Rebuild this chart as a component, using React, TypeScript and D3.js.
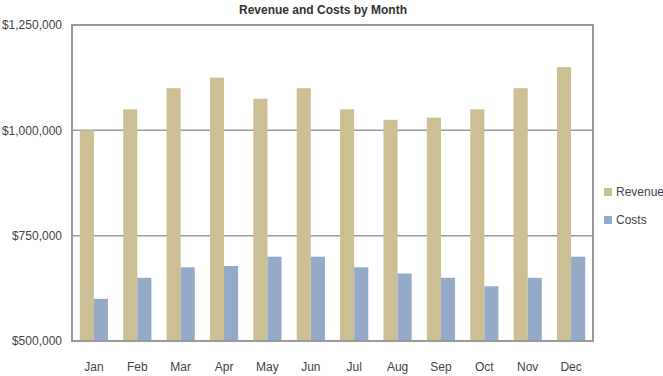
import React from "react";
import * as d3 from "d3";

const months = ["Jan", "Feb", "Mar", "Apr", "May", "Jun", "Jul", "Aug", "Sep", "Oct", "Nov", "Dec"];
const revenue = [1000000, 1050000, 1100000, 1125000, 1075000, 1100000, 1050000, 1025000, 1030000, 1050000, 1100000, 1150000];
const costs = [600000, 650000, 675000, 678000, 700000, 700000, 675000, 660000, 650000, 630000, 650000, 700000];
const seriesNames = ["Revenue", "Costs"];
const yTicks = [500000, 750000, 1000000, 1250000];
const title = "Revenue and Costs by Month";

const W = 663;
const H = 376;
const left = 72;
const right = 593;
const top = 25;
const bottom = 341;
const colors: Record<string, string> = { Revenue: "#cbbf93", Costs: "#94aac8" };
const font = "'Liberation Sans', Arial, sans-serif";

export default function App() {
  const x0 = d3.scaleBand<string>().domain(months).range([left, right]).paddingInner(0.35).paddingOuter(0.18);
  const x1 = d3.scaleBand<string>().domain(seriesNames).range([0, x0.bandwidth()]);
  const y = d3.scaleLinear().domain([500000, 1250000]).range([bottom, top]);
  const fmt = (v: number) => "$" + d3.format(",")(v);
  const values: Record<string, number[]> = { Revenue: revenue, Costs: costs };

  return (
    <svg width={W} height={H} style={{ position: "absolute", left: 0, top: 0, background: "#fff" }}>
      <text x={323} y={14} textAnchor="middle" fontFamily={font} fontWeight="bold" fontSize={12} fill="#333">
        {title}
      </text>
      {yTicks.map((t) => (
        <g key={t}>
          {t !== 500000 && t !== 1250000 && (
            <line x1={left - 1} x2={right} y1={y(t)} y2={y(t)} stroke="#9a9a9a" strokeWidth={1.5} />
          )}
          <text x={62} y={y(t)} dy="0.35em" textAnchor="end" fontFamily={font} fontSize={12} fill="#444">
            {fmt(t)}
          </text>
        </g>
      ))}
      {months.map((m, i) => (
        <g key={m} transform={`translate(${x0(m)},0)`}>
          {seriesNames.map((s) => (
            <rect
              key={s}
              x={x1(s)}
              y={y(values[s][i])}
              width={x1.bandwidth()}
              height={bottom - y(values[s][i])}
              fill={colors[s]}
            />
          ))}
        </g>
      ))}
      <rect x={left} y={top} width={right - left} height={bottom - top} fill="none" stroke="#9a9a9a" strokeWidth={2} />
      {months.map((m) => (
        <text
          key={m}
          x={(x0(m) as number) + x0.bandwidth() / 2}
          y={367}
          dy="0.35em"
          textAnchor="middle"
          fontFamily={font}
          fontSize={12}
          fill="#444"
        >
          {m}
        </text>
      ))}
      {seriesNames.map((s, i) => (
        <g key={s} transform={`translate(604,${192 + i * 28})`}>
          <rect x={0} y={-4} width={8} height={8} fill={colors[s]} />
          <text x={12} y={0} dy="0.35em" fontFamily={font} fontSize={12} fill="#444">
            {s}
          </text>
        </g>
      ))}
    </svg>
  );
}
